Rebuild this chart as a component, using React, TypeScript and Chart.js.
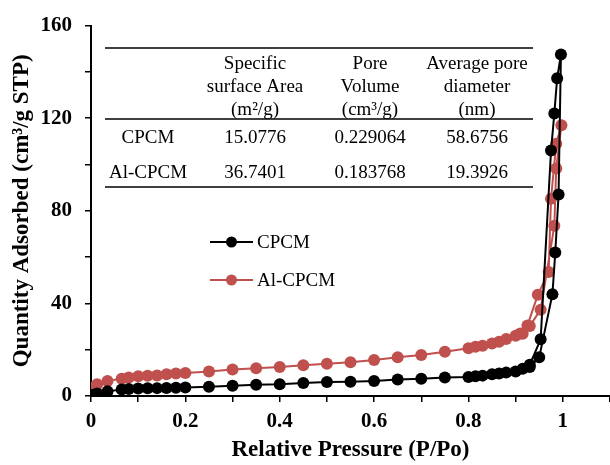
import React, { useEffect, useRef } from "react";
import { Chart, registerables } from "chart.js";

Chart.register(...registerables);

// CPCM isotherm (adsorption then desorption)
const cpcmP = [0.005, 0.013, 0.035, 0.065, 0.08, 0.1, 0.12, 0.14, 0.16, 0.18, 0.2, 0.25, 0.3, 0.35, 0.4, 0.45, 0.5, 0.55, 0.6, 0.65, 0.7, 0.75, 0.8, 0.815, 0.83, 0.85, 0.865, 0.88, 0.9, 0.915, 0.93, 0.95, 0.978, 0.984, 0.991, 0.996, 0.988, 0.982, 0.975, 0.953, 0.93];
const cpcmQ = [0.5, 1.1, 2.0, 2.8, 3.0, 3.2, 3.3, 3.4, 3.5, 3.6, 3.7, 4.0, 4.4, 4.9, 5.1, 5.6, 6.0, 6.2, 6.5, 7.1, 7.5, 8.0, 8.2, 8.5, 8.8, 9.4, 9.7, 10.1, 10.6, 11.8, 12.5, 16.7, 44.0, 62.0, 87.0, 147.5, 137.3, 122.0, 106.0, 24.5, 13.5];

// Al-CPCM isotherm (adsorption then desorption)
const alP = [0.005, 0.013, 0.035, 0.065, 0.08, 0.1, 0.12, 0.14, 0.16, 0.18, 0.2, 0.25, 0.3, 0.35, 0.4, 0.45, 0.5, 0.55, 0.6, 0.65, 0.7, 0.75, 0.8, 0.815, 0.83, 0.85, 0.865, 0.88, 0.9, 0.915, 0.93, 0.953, 0.982, 0.986, 0.997, 0.986, 0.975, 0.97, 0.947, 0.925, 0.91];
const alQ = [3.7, 5.1, 6.5, 7.5, 8.0, 8.5, 8.7, 8.9, 9.4, 9.7, 9.9, 10.6, 11.4, 12.0, 12.5, 13.3, 13.9, 14.6, 15.6, 16.7, 17.7, 19.1, 20.6, 21.3, 21.7, 22.7, 23.4, 24.6, 26.0, 26.9, 30.2, 37.3, 73.5, 98.3, 117.0, 109.0, 85.2, 53.6, 43.7, 30.5, 27.0];

const seriesNames = ["CPCM", "Al-CPCM"];
const seriesColors = ["#000000", "#C0504D"];

// inset table
const tableHeaders = [
  ["Specific", "surface Area", "(m²/g)"],
  ["Pore", "Volume", "(cm³/g)"],
  ["Average pore", "diameter", "(nm)"],
];
const tableRowLabels = ["CPCM", "Al-CPCM"];
const tableRowValues = [
  ["15.0776", "0.229064", "58.6756"],
  ["36.7401", "0.183768", "19.3926"],
];

const xTickLabels = ["0", "0.2", "0.4", "0.6", "0.8", "1"];
const yTickLabels = ["0", "40", "80", "120", "160"];

const SERIF = "'Liberation Serif', 'Times New Roman', serif";

const overlayPlugin = {
  id: "overlay",
  afterDraw(chart: any) {
    const ctx = chart.ctx as CanvasRenderingContext2D;
    ctx.save();
    // table
    ctx.fillStyle = "#000";
    ctx.strokeStyle = "#000";
    ctx.lineWidth = 1.3;
    const x0 = 105, x1 = 533;
    [48, 119, 187].forEach((y) => {
      ctx.beginPath();
      ctx.moveTo(x0, y);
      ctx.lineTo(x1, y);
      ctx.stroke();
    });
    ctx.font = `19px ${SERIF}`;
    ctx.textAlign = "center";
    ctx.textBaseline = "middle";
    const colX = [255, 370, 477];
    const headY = [64, 87, 110];
    tableHeaders.forEach((lines, c) => {
      lines.forEach((t, i) => ctx.fillText(t, colX[c], headY[i]));
    });
    const rowY = [138, 173];
    tableRowLabels.forEach((lab, r) => {
      ctx.fillText(lab, 148, rowY[r]);
      tableRowValues[r].forEach((v, c) => ctx.fillText(v, colX[c], rowY[r]));
    });
    // legend
    const legY = [242, 280];
    chart.data.datasets.forEach((ds: any, i: number) => {
      const y = legY[i];
      ctx.strokeStyle = ds.borderColor;
      ctx.lineWidth = 2;
      ctx.beginPath();
      ctx.moveTo(210, y);
      ctx.lineTo(253, y);
      ctx.stroke();
      ctx.fillStyle = ds.backgroundColor;
      ctx.beginPath();
      ctx.arc(231.5, y, 5.5, 0, Math.PI * 2);
      ctx.fill();
      ctx.fillStyle = "#000";
      ctx.textAlign = "left";
      ctx.font = `19px ${SERIF}`;
      ctx.fillText(ds.label, 257, y + 1);
    });
    ctx.restore();
  },
};

export default function App() {
  const ref = useRef<HTMLCanvasElement>(null);
  useEffect(() => {
    if (!ref.current) return;
    const mk = (P: number[], Q: number[]) => P.map((p, i) => ({ x: p, y: Q[i] }));
    const chart = new Chart(ref.current, {
      type: "scatter",
      data: {
        datasets: [
          {
            label: seriesNames[0],
            data: mk(cpcmP, cpcmQ),
            showLine: true,
            borderColor: seriesColors[0],
            backgroundColor: seriesColors[0],
            pointBorderColor: seriesColors[0],
            borderWidth: 2,
            pointRadius: 6,
            pointBorderWidth: 0,
          },
          {
            label: seriesNames[1],
            data: mk(alP, alQ),
            showLine: true,
            borderColor: seriesColors[1],
            backgroundColor: seriesColors[1],
            pointBorderColor: seriesColors[1],
            borderWidth: 2,
            pointRadius: 6,
            pointBorderWidth: 0,
          },
        ],
      },
      options: {
        responsive: false,
        animation: false,
        layout: { padding: { top: 20, right: 2, left: 0, bottom: 0 } },
        plugins: { legend: { display: false }, tooltip: { enabled: false } },
        scales: {
          x: {
            type: "linear",
            min: 0,
            max: 1.1,
            afterFit: (s: any) => {
              s.height = 69;
            },
            border: { display: true, color: "#000", width: 2 },
            grid: { display: true, drawOnChartArea: false, drawTicks: true, tickLength: 6, color: "#000", lineWidth: 1.5 },
            ticks: {
              stepSize: 0.1,
              autoSkip: false,
              maxRotation: 0,
              padding: 7,
              color: "#000",
              font: { family: SERIF, size: 21, weight: "bold" },
              callback: (v: any) => {
                const k = Math.round(Number(v) * 10);
                if (k % 2 !== 0) return "";
                return xTickLabels[k / 2] ?? "";
              },
            },
            title: {
              display: true,
              text: "Relative Pressure (P/Po)",
              color: "#000",
              font: { family: SERIF, size: 23, weight: "bold" },
              padding: { top: 0, bottom: 1 },
            },
          },
          y: {
            min: 0,
            max: 160,
            afterFit: (s: any) => {
              s.width = 91;
            },
            border: { display: true, color: "#000", width: 2 },
            grid: { display: true, drawOnChartArea: false, drawTicks: true, tickLength: 6, color: "#000", lineWidth: 1.5 },
            ticks: {
              stepSize: 20,
              autoSkip: false,
              padding: 13,
              color: "#000",
              font: { family: SERIF, size: 21, weight: "bold" },
              callback: (v: any) => {
                const k = Math.round(Number(v));
                if (k % 40 !== 0) return "";
                return yTickLabels[k / 40] ?? "";
              },
            },
            title: {
              display: true,
              text: "Quantity Adsorbed (cm³/g STP)",
              color: "#000",
              font: { family: SERIF, size: 23, weight: "bold" },
              padding: { top: 8, bottom: 0 },
            },
          },
        },
      },
      plugins: [overlayPlugin],
    });
    return () => chart.destroy();
  }, []);
  return (
    <div style={{ position: "fixed", left: 0, top: 0, width: 610, height: 465, overflow: "hidden", background: "#fff" }}>
      <canvas ref={ref} width={617} height={465} style={{ display: "block" }} />
    </div>
  );
}
